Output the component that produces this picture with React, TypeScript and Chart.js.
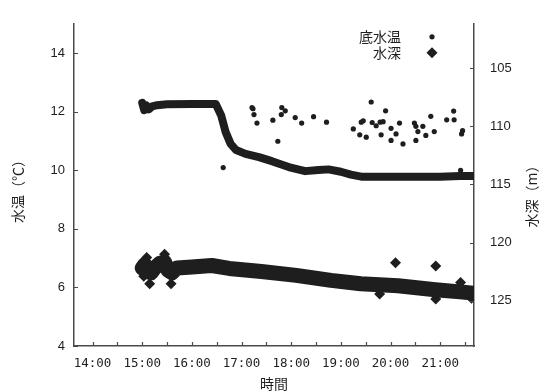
import React, { useEffect, useRef } from 'react';
import { Chart, registerables } from 'chart.js';

Chart.register(...registerables);

// ---- axis ranges & ticks ----
const X_MIN = 13.626;
const X_MAX = 21.68;
const TEMP_MIN = 4;
const TEMP_MAX = 15;
const DEPTH_MIN = 101.17;
const DEPTH_MAX = 128.91;

const xTickHours = [14, 15, 16, 17, 18, 19, 20, 21];
const xTickLabels = ['14:00', '15:00', '16:00', '17:00', '18:00', '19:00', '20:00', '21:00'];
const xMinorHours = [14.5, 15.5, 16.5, 17.5, 18.5, 19.5, 20.5, 21.5];
const tempTicks = [4, 6, 8, 10, 12, 14];
const depthTicks = [105, 110, 115, 120, 125];

// ---- texts ----
const xTitle = '時間';
const tempTitle = '水温（℃）';
const depthTitle = '水深（m）';
const tempLegend = '底水温';
const depthLegend = '水深';

// ---- bottom water temperature (dense trace, hours -> °C) ----
const tempBandTimes = [15.0, 15.04, 15.08, 15.13, 15.2, 15.3, 15.5, 16.0, 16.3, 16.48, 16.59, 16.68, 16.78, 16.89, 17.08, 17.35, 17.61, 17.95, 18.28, 18.55, 18.75, 19.0, 19.2, 19.41, 20.0, 20.5, 21.0, 21.4, 21.66];
const tempBandValues = [12.3, 12.05, 12.22, 12.08, 12.18, 12.22, 12.25, 12.26, 12.26, 12.26, 11.87, 11.3, 10.9, 10.69, 10.56, 10.45, 10.31, 10.11, 9.97, 10.01, 10.03, 9.95, 9.85, 9.78, 9.78, 9.78, 9.78, 9.8, 9.8];

// ---- bottom water temperature (scattered readings) ----
const tempDotTimes = [16.63, 17.21, 17.23, 17.25, 17.31, 17.63, 17.81, 17.88, 17.8, 17.73, 18.08, 18.21, 18.45, 18.71, 19.25, 19.38, 19.41, 19.45, 19.51, 19.61, 19.63, 19.71, 19.79, 19.85, 19.81, 19.9, 20.01, 20.01, 20.11, 20.18, 20.25, 20.48, 20.51, 20.51, 20.55, 20.65, 20.71, 20.81, 20.88, 21.13, 21.28, 21.27, 21.43, 21.45, 21.41];
const tempDotValues = [10.09, 12.14, 12.1, 11.9, 11.61, 11.71, 12.14, 12.03, 11.9, 10.99, 11.8, 11.61, 11.83, 11.64, 11.41, 11.21, 11.64, 11.69, 11.13, 12.33, 11.63, 11.52, 11.64, 11.66, 11.21, 12.03, 11.43, 11.02, 11.24, 11.61, 10.9, 11.61, 11.5, 11.02, 11.32, 11.5, 11.19, 11.84, 11.32, 11.72, 11.72, 12.02, 11.24, 11.35, 10.0];

// ---- water depth (dense trace, hours -> m) ----
const depthBandTimes = [15.0, 15.05, 15.1, 15.18, 15.25, 15.35, 15.45, 15.52, 15.6, 15.7, 15.85, 16.0, 16.4, 16.75, 17.4, 18.1, 18.8, 19.4, 20.15, 20.9, 21.4, 21.66];
const depthBandValues = [122.2, 121.9, 122.5, 122.6, 122.2, 121.8, 121.7, 122.4, 122.6, 122.2, 122.15, 122.1, 121.98, 122.23, 122.49, 122.83, 123.26, 123.55, 123.72, 124.06, 124.25, 124.36];

// ---- water depth (scattered readings) ----
const depthDotTimes = [15.03, 15.09, 15.45, 15.15, 15.58, 19.78, 20.1, 20.91, 20.91, 21.41, 21.63];
const depthDotValues = [122.9, 121.3, 121.0, 123.55, 123.55, 124.43, 121.74, 122.02, 124.86, 123.44, 124.8];

const INK = '#1e1e1e';
const AXIS = '#4a4a4a';
const CJK = '"Noto Sans CJK JP", "Noto Sans", sans-serif';

const zip = (xs: number[], ys: number[]) => xs.map((x, i) => ({ x, y: ys[i] }));

const decorPlugin = {
  id: 'decor',
  afterDraw(chart: any) {
    const ctx = chart.ctx as CanvasRenderingContext2D;
    const { left, right, top, bottom } = chart.chartArea;
    const sx = chart.scales.x;
    const sy = chart.scales.y;
    const sy2 = chart.scales.y2;
    ctx.save();
    // inward tick marks
    ctx.strokeStyle = AXIS;
    ctx.lineWidth = 1.2;
    ctx.beginPath();
    [...xTickHours, ...xMinorHours].forEach((h) => {
      const px = Math.round(sx.getPixelForValue(h)) + 0.5;
      ctx.moveTo(px, bottom);
      ctx.lineTo(px, bottom - 4);
    });
    tempTicks.forEach((v) => {
      const py = Math.round(sy.getPixelForValue(v)) + 0.5;
      ctx.moveTo(left, py);
      ctx.lineTo(left + 4, py);
    });
    depthTicks.forEach((v) => {
      const py = Math.round(sy2.getPixelForValue(v)) + 0.5;
      ctx.moveTo(right, py);
      ctx.lineTo(right - 4, py);
    });
    ctx.stroke();

    // axis titles
    ctx.fillStyle = INK;
    ctx.font = '14px ' + CJK;
    ctx.textAlign = 'center';
    ctx.textBaseline = 'middle';
    const cy = (top + bottom) / 2;
    ctx.save();
    ctx.translate(18, cy + 3);
    ctx.rotate(-Math.PI / 2);
    ctx.fillText(tempTitle, 0, 0);
    ctx.restore();
    ctx.save();
    ctx.translate(532, cy + 8);
    ctx.rotate(-Math.PI / 2);
    ctx.fillText(depthTitle, 0, 0);
    ctx.restore();
    ctx.fillText(xTitle, (left + right) / 2, 384);

    // legend
    ctx.textAlign = 'right';
    ctx.fillText(tempLegend, right - 73, top + 13);
    ctx.fillText(depthLegend, right - 73, top + 29);
    const mx = right - 42;
    ctx.beginPath();
    ctx.arc(mx, top + 13, 2.6, 0, Math.PI * 2);
    ctx.fill();
    ctx.beginPath();
    const r = 5.5;
    const my = top + 29;
    ctx.moveTo(mx, my - r);
    ctx.lineTo(mx + r, my);
    ctx.lineTo(mx, my + r);
    ctx.lineTo(mx - r, my);
    ctx.closePath();
    ctx.fill();
    ctx.restore();
  },
};

export default function App() {
  const canvasRef = useRef<HTMLCanvasElement | null>(null);

  useEffect(() => {
    if (!canvasRef.current) return;
    const chart = new Chart(canvasRef.current, {
      type: 'scatter',
      data: {
        datasets: [
          {
            label: depthLegend,
            data: zip(depthBandTimes, depthBandValues),
            yAxisID: 'y2',
            showLine: true,
            borderColor: INK,
            borderWidth: 15,
            borderJoinStyle: 'round',
            borderCapStyle: 'round',
            pointRadius: 0,
            backgroundColor: INK,
          },
          {
            label: depthLegend,
            data: zip(depthDotTimes, depthDotValues),
            yAxisID: 'y2',
            showLine: false,
            pointStyle: 'rectRot',
            pointRadius: 5.5,
            backgroundColor: INK,
            borderColor: INK,
            borderWidth: 0,
          },
          {
            label: tempLegend,
            data: zip(tempBandTimes, tempBandValues),
            yAxisID: 'y',
            showLine: true,
            borderColor: INK,
            borderWidth: 8,
            borderJoinStyle: 'round',
            borderCapStyle: 'round',
            pointRadius: 0,
            backgroundColor: INK,
          },
          {
            label: tempLegend,
            data: zip(tempDotTimes, tempDotValues),
            yAxisID: 'y',
            showLine: false,
            pointStyle: 'circle',
            pointRadius: 2.6,
            backgroundColor: INK,
            borderColor: INK,
            borderWidth: 0,
          },
        ],
      },
      options: {
        animation: false,
        responsive: true,
        maintainAspectRatio: false,
        layout: { padding: { top: 20, left: 0, right: 0, bottom: 0 } },
        plugins: {
          legend: { display: false },
          tooltip: { enabled: false },
        },
        scales: {
          x: {
            type: 'linear',
            position: 'bottom',
            min: X_MIN,
            max: X_MAX,
            afterBuildTicks: (s: any) => {
              s.ticks = xTickHours.map((v) => ({ value: v }));
            },
            afterFit: (s: any) => {
              s.height = 46;
            },
            grid: { display: false, drawTicks: false },
            border: { display: true, color: AXIS, width: 1.5 },
            ticks: {
              color: INK,
              padding: 10,
              maxRotation: 0,
              autoSkip: false,
              font: { family: '"DejaVu Sans Mono", monospace', size: 12.5 },
              callback: (_v: any, i: number) => xTickLabels[i],
            },
          },
          y: {
            type: 'linear',
            position: 'left',
            min: TEMP_MIN,
            max: TEMP_MAX,
            afterBuildTicks: (s: any) => {
              s.ticks = tempTicks.map((v) => ({ value: v }));
            },
            afterFit: (s: any) => {
              s.width = 74;
            },
            grid: { display: false, drawTicks: false },
            border: { display: true, color: AXIS, width: 1.5 },
            ticks: {
              color: INK,
              padding: 9,
              font: { family: '"Liberation Sans", Arial, sans-serif', size: 13 },
            },
          },
          y2: {
            type: 'linear',
            position: 'right',
            reverse: true,
            min: DEPTH_MIN,
            max: DEPTH_MAX,
            afterBuildTicks: (s: any) => {
              s.ticks = depthTicks.map((v) => ({ value: v }));
            },
            afterFit: (s: any) => {
              s.width = 73;
            },
            grid: { display: false, drawTicks: false },
            border: { display: true, color: AXIS, width: 1.5 },
            ticks: {
              color: INK,
              padding: 16,
              font: { family: '"Liberation Sans", Arial, sans-serif', size: 13 },
            },
          },
        },
      },
      plugins: [decorPlugin],
    });
    return () => chart.destroy();
  }, []);

  return (
    <div style={{ position: 'absolute', left: 0, top: 0, width: 547, height: 392, background: '#fff' }}>
      <canvas ref={canvasRef} />
    </div>
  );
}
